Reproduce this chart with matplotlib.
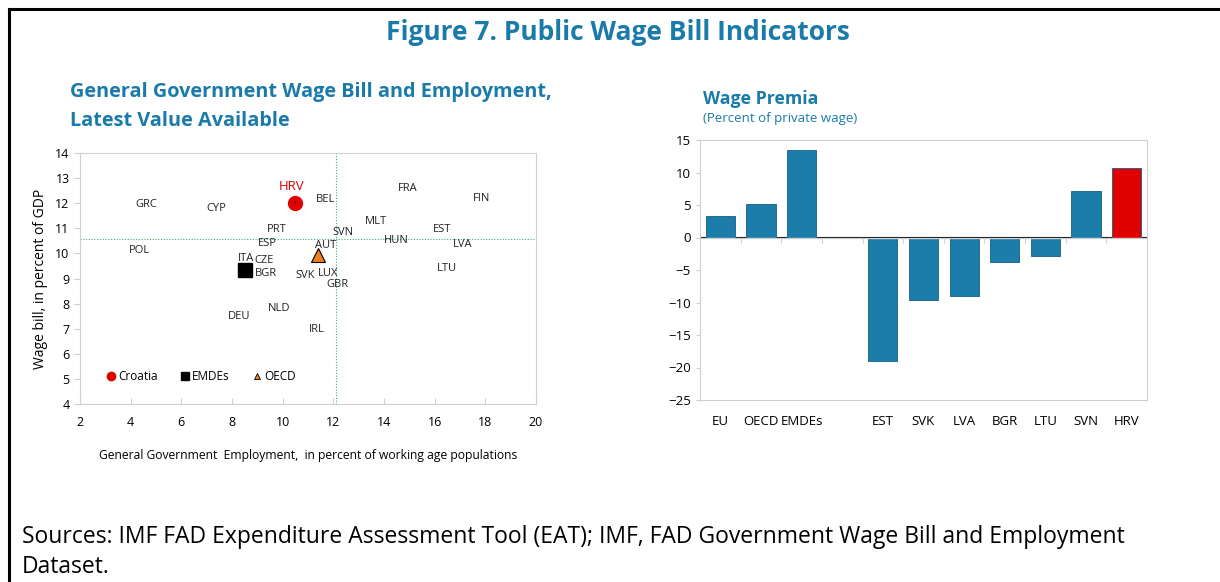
import matplotlib.pyplot as plt
from matplotlib.lines import Line2D

plt.rcParams['font.family'] = ['Open Sans', 'DejaVu Sans']

teal = '#1a7bab'
blue = '#1c7caa'
red = '#e00000'
grid_grey = '#d0d0d0'

# scatter data: employment (% of working age pop), wage bill (% of GDP)
countries = ['GRC', 'CYP', 'BEL', 'FRA', 'FIN', 'MLT', 'PRT', 'SVN', 'EST', 'ESP',
             'AUT', 'HUN', 'LVA', 'POL', 'ITA', 'CZE', 'BGR', 'LTU', 'SVK', 'LUX',
             'GBR', 'NLD', 'DEU', 'IRL']
emp = [4.6, 7.4, 11.7, 14.95, 17.85, 13.7, 9.75, 12.4, 16.3, 9.4,
       11.7, 14.5, 17.1, 4.35, 8.55, 9.25, 9.35, 16.5, 10.9, 11.8,
       12.15, 9.85, 8.3, 11.35]
wage = [11.93, 11.77, 12.13, 12.57, 12.17, 11.29, 10.97, 10.85, 10.97, 10.41,
        10.33, 10.53, 10.37, 10.1, 9.78, 9.7, 9.18, 9.38, 9.1, 9.18,
        8.78, 7.82, 7.47, 6.95]
hrv_pt = (10.5, 12.0)
emdes_pt = (8.5, 9.35)
oecd_pt = (11.4, 9.95)
avg_emp = 12.1
avg_wage = 10.57

# bar data: wage premia
bar_labels = ['EU', 'OECD', 'EMDEs', '', 'EST', 'SVK', 'LVA', 'BGR', 'LTU', 'SVN', 'HRV']
premia = [3.3, 5.2, 13.4, 0, -19.0, -9.6, -9.05, -3.7, -2.9, 7.15, 10.7]

fig = plt.figure(figsize=(12.2, 5.82), dpi=100)

# outer frame (top and left)
fig.add_artist(Line2D([9/1220, 1], [1 - 9/582, 1 - 9/582], color='black', lw=2.2))
fig.add_artist(Line2D([9/1220, 9/1220], [0, 1 - 9/582], color='black', lw=2.2))

fig.text(618/1220, 1 - 32/582, 'Figure 7. Public Wage Bill Indicators', color=teal,
         fontsize=19, fontweight='bold', ha='center', va='center')

fig.text(70/1220, 1 - 107/582, 'General Government Wage Bill and Employment,\nLatest Value Available',
         color=teal, fontsize=14.3, fontweight='bold', ha='left', va='center', linespacing=1.6)

fig.text(703/1220, 1 - 99/582, 'Wage Premia', color=teal, fontsize=12.8,
         fontweight='bold', ha='left', va='center')
fig.text(703/1220, 1 - 119/582, '(Percent of private wage)', color=teal, fontsize=9.5,
         ha='left', va='center')

fig.text(22/1220, 1 - 552/582,
         'Sources: IMF FAD Expenditure Assessment Tool (EAT); IMF, FAD Government Wage Bill and Employment\nDataset.',
         fontsize=16.5, ha='left', va='center', linespacing=1.3)

# ---- scatter ----
ax = fig.add_axes([80/1220, 1 - 404/582, 456/1220, 251/582])
ax.set_xlim(2, 20)
ax.set_ylim(4, 14)
ax.set_xticks(range(2, 21, 2))
ax.set_yticks(range(4, 15))
for s in ax.spines.values():
    s.set_color(grid_grey)
ax.tick_params(axis='x', direction='in', length=4, color=grid_grey, labelsize=9, pad=9)
ax.tick_params(axis='y', direction='out', length=4, color=grid_grey, labelsize=9)
ax.axvline(avg_emp, color='#3cb371', lw=0.8, ls=(0, (1, 1.5)))
ax.axhline(avg_wage, color='#3cb371', lw=0.8, ls=(0, (1, 1.5)))

for c, x, y in zip(countries, emp, wage):
    ax.text(x, y, c, fontsize=8, ha='center', va='center', color='#222222')

ax.plot(*hrv_pt, 'o', color=red, ms=10, zorder=3)
ax.annotate('HRV', xy=hrv_pt, xytext=(10.35, 12.65), color=red, fontsize=9.5,
            ha='center', va='center',
            arrowprops=dict(arrowstyle='-', color='black', lw=0.8, shrinkA=4, shrinkB=0))
ax.plot(*emdes_pt, 's', color='black', ms=10, zorder=3)
ax.plot(*oecd_pt, '^', color='#f07f24', mec='black', mew=0.8, ms=10, zorder=3)

handles = [Line2D([], [], marker='o', color=red, ls='none', ms=6),
           Line2D([], [], marker='s', color='black', ls='none', ms=6),
           Line2D([], [], marker='^', color='#f07f24', mec='black', mew=0.6, ls='none', ms=5)]
ax.legend(handles, ['Croatia', 'EMDEs', 'OECD'], ncol=3, frameon=False, fontsize=8.5,
          loc='center left', bbox_to_anchor=(0.035, 0.108), handlelength=0.8,
          handletextpad=0.2, columnspacing=1.9)

ax.set_ylabel('Wage bill, in percent of GDP', fontsize=10, labelpad=5)
ax.set_xlabel('General Government  Employment,  in percent of working age populations',
              fontsize=8.7, labelpad=14)

# ---- bars ----
bx = fig.add_axes([700/1220, 1 - 400/582, 447/1220, 260/582])
pos = list(range(len(bar_labels)))
colors = [red if l == 'HRV' else blue for l in bar_labels]
bx.bar(pos, premia, width=0.72, color=colors, edgecolor='#145f86', lw=0.6)
bx.set_xlim(-0.5, len(bar_labels) - 0.5)
bx.set_ylim(-25, 15)
bx.set_yticks(range(-25, 16, 5))
bx.set_xticks(pos)
bx.set_xticklabels(bar_labels)
for s in bx.spines.values():
    s.set_color(grid_grey)
bx.tick_params(axis='x', length=0, labelsize=9.5, pad=11)
bx.tick_params(axis='y', direction='out', length=3, color=grid_grey, labelsize=9.5)
bx.axhline(0, color=grid_grey, lw=1)
sec = bx.secondary_xaxis(25/40)
sec.set_xticks([p + 0.5 for p in pos[:-1]])
sec.set_xticklabels([])
sec.tick_params(direction='in', length=4, color=grid_grey)
sec.spines['bottom'].set_color(grid_grey)

fig.savefig('out.png', dpi=100)
